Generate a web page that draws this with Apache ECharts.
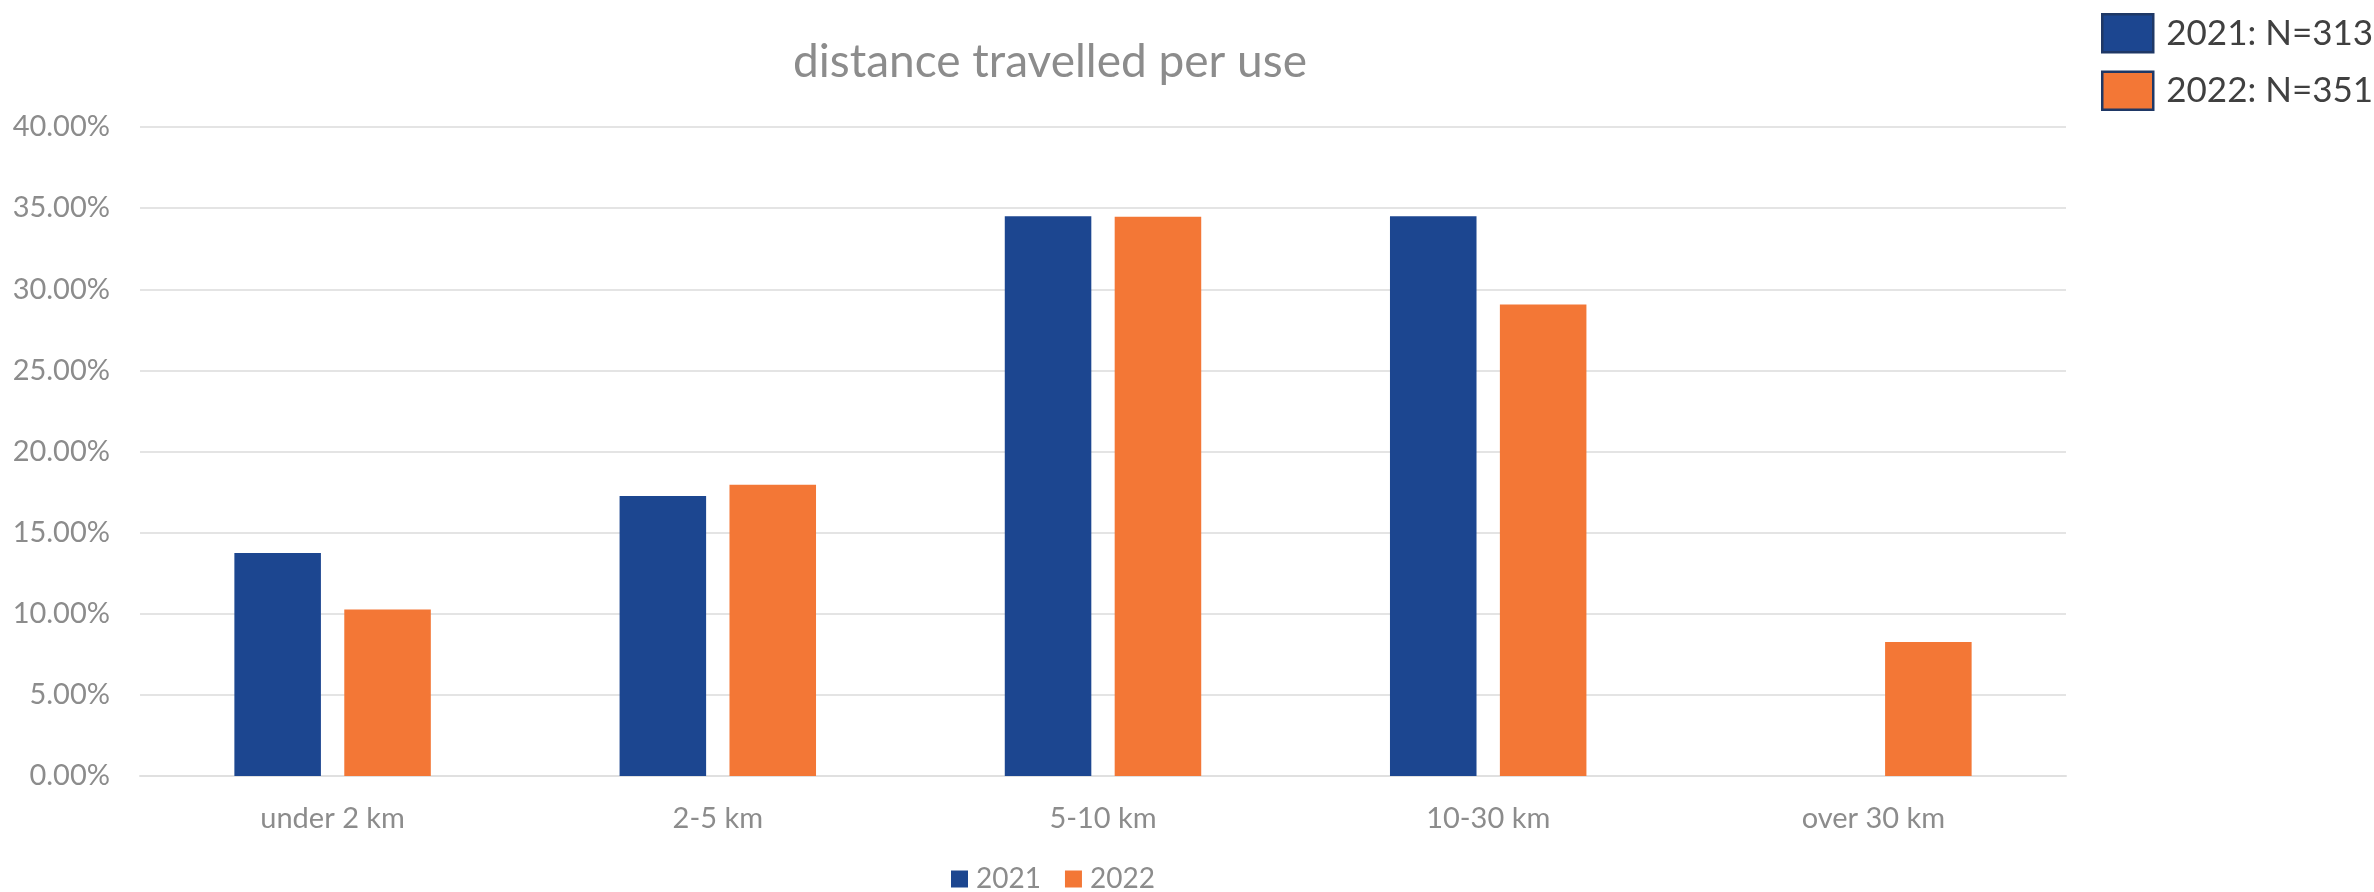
<!DOCTYPE html>
<html>
<head>
<meta charset="utf-8">
<title>distance travelled per use</title>
<script src="https://cdn.jsdelivr.net/npm/echarts@6/dist/echarts.min.js"></script>
<style>
  html, body { margin: 0; padding: 0; background: #fff; }
  #distanceChart { width: 2374px; height: 892px; }
</style>
</head>
<body>
<div id="distanceChart"></div>
<script>
// categories and values (percent of respondents)
const categories = ['under 2 km', '2-5 km', '5-10 km', '10-30 km', 'over 30 km'];
const seriesNames = ['2021', '2022'];
const sampleSizes = [313, 351];
const values2021 = [13.74, 17.25, 34.50, 34.50, 0];
const values2022 = [10.26, 17.95, 34.47, 29.06, 8.26];

const font = 'Lato, "Liberation Sans", sans-serif';
const grey = '#8c8c8c';
const colors = ['#1c4690', '#f37736'];

// 获取 echarts 实例
let chart = echarts.init(document.getElementById('distanceChart'));

let option = {
  animation: false,
  color: colors,
  title: {
    text: 'distance travelled per use',
    left: 788,
    top: 34,
    textStyle: { fontFamily: font, fontSize: 46, fontWeight: 'normal', color: grey }
  },
  legend: [
    {
      // bottom legend
      data: seriesNames,
      left: 946,
      top: 860,
      icon: 'rect',
      itemWidth: 17,
      itemHeight: 17,
      itemGap: 24,
      itemStyle: { borderWidth: 0 },
      textStyle: { fontFamily: font, fontSize: 28, color: grey, padding: [0, 0, 0, 3] }
    },
    {
      // top right legend with sample sizes
      data: seriesNames,
      orient: 'vertical',
      left: 2096,
      top: 8,
      icon: 'rect',
      itemWidth: 51,
      itemHeight: 38,
      itemGap: 17,
      itemStyle: { borderColor: '#1f3866', borderWidth: 2.5 },
      formatter: function (name) {
        return name + ': N=' + sampleSizes[seriesNames.indexOf(name)];
      },
      textStyle: { fontFamily: font, fontSize: 35, color: '#404040', padding: [0, 0, 0, 8] }
    }
  ],
  grid: { left: 140, right: 308, top: 127, bottom: 116 },
  xAxis: {
    type: 'category',
    data: categories,
    axisLine: { lineStyle: { color: '#e0e0e0', width: 2 } },
    axisTick: { show: false },
    axisLabel: { fontFamily: font, fontSize: 29, color: grey, margin: 28 }
  },
  yAxis: {
    type: 'value',
    min: 0,
    max: 40,
    interval: 5,
    axisLine: { show: false },
    axisTick: { show: false },
    splitLine: { lineStyle: { color: '#e4e4e4', width: 2 } },
    axisLabel: {
      fontFamily: font, fontSize: 29, color: grey, margin: 30,
      formatter: function (v) { return v.toFixed(2) + '%'; }
    }
  },
  series: [
    {
      name: seriesNames[0],
      type: 'bar',
      data: values2021,
      barGap: '27%',
      barCategoryGap: '49%'
    },
    {
      name: seriesNames[1],
      type: 'bar',
      data: values2022,
      barGap: '27%',
      barCategoryGap: '49%'
    }
  ]
};

chart.setOption(option);
</script>
</body>
</html>
